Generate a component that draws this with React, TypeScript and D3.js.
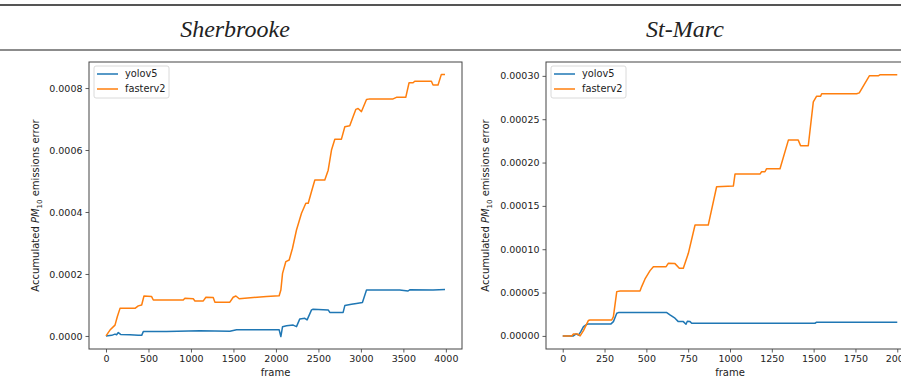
import { useRef, useEffect } from 'react';
import * as d3 from 'd3';

// [frame, value * 1e-4]
const sherbrookeYolo: [number, number][] = [
  [0, 0], [67, 0.02], [106, 0.06], [125, 0.04], [145, 0.11], [172, 0.05], [282, 0.04], [380, 0.02],
  [420, 0.02], [439, 0.14], [713, 0.14], [1105, 0.17], [1458, 0.15], [1537, 0.2], [2038, 0.2],
  [2058, -0.02], [2078, 0.3], [2125, 0.33], [2203, 0.35], [2242, 0.3], [2281, 0.55], [2340, 0.57],
  [2367, 0.52], [2419, 0.84], [2438, 0.86], [2615, 0.84], [2634, 0.76], [2791, 0.76], [2811, 0.98],
  [2889, 1.02], [2948, 1.05], [3018, 1.08], [3066, 1.48], [3457, 1.48], [3555, 1.45], [3575, 1.49],
  [3849, 1.48], [3990, 1.5],
];
const sherbrookeFaster: [number, number][] = [
  [0, 0], [47, 0.19], [106, 0.35], [133, 0.62], [165, 0.89], [341, 0.89], [380, 0.97], [420, 1.0],
  [447, 1.29], [537, 1.27], [557, 1.16], [909, 1.16], [929, 1.22], [1027, 1.2], [1047, 1.13],
  [1145, 1.13], [1176, 1.25], [1262, 1.24], [1282, 1.09], [1458, 1.09], [1497, 1.25], [1529, 1.29],
  [1568, 1.2], [1733, 1.24], [1890, 1.27], [2038, 1.3], [2058, 1.48], [2078, 2.02], [2117, 2.4],
  [2156, 2.45], [2195, 2.83], [2242, 3.42], [2301, 3.96], [2352, 4.28], [2380, 4.28], [2419, 4.66],
  [2458, 5.03], [2575, 5.03], [2615, 5.35], [2654, 6.0], [2693, 6.35], [2771, 6.35], [2811, 6.75],
  [2869, 6.78], [2909, 7.08], [2940, 7.31], [2967, 7.34], [3007, 7.24], [3066, 7.63], [3105, 7.65],
  [3379, 7.65], [3418, 7.7], [3528, 7.7], [3567, 8.17], [3614, 8.17], [3634, 8.22], [3830, 8.22],
  [3849, 8.1], [3908, 8.1], [3947, 8.44], [3990, 8.44],
];

// [frame, value * 1e-5]
const stMarcYolo: [number, number][] = [
  [0, 0], [64, 0], [80, 0.23], [94, 0.08], [108, 0.5], [124, 1.08], [139, 1.27], [150, 1.36],
  [287, 1.36], [303, 1.65], [323, 2.61], [333, 2.69], [622, 2.69], [641, 2.42], [671, 2.04],
  [691, 1.65], [721, 1.65], [737, 1.34], [745, 1.69], [761, 1.65], [771, 1.46], [1040, 1.46],
  [1508, 1.46], [1518, 1.58], [2000, 1.58],
];
const stMarcFaster: [number, number][] = [
  [0, 0], [54, 0], [64, 0.23], [88, 0.23], [104, 0], [124, 0.61], [153, 1.77], [163, 1.84],
  [293, 1.84], [303, 2.23], [323, 5.11], [343, 5.19], [462, 5.19], [472, 5.69], [492, 6.57],
  [522, 7.53], [542, 7.99], [618, 7.99], [631, 8.37], [671, 8.34], [697, 7.8], [721, 7.8],
  [751, 9.53], [791, 12.79], [870, 12.79], [920, 17.21], [1020, 17.29], [1030, 18.67], [1179, 18.67],
  [1189, 18.94], [1209, 18.94], [1219, 19.29], [1299, 19.29], [1349, 22.59], [1408, 22.59],
  [1422, 21.94], [1468, 21.94], [1498, 27.0], [1518, 27.66], [1542, 27.66], [1548, 27.93],
  [1757, 27.93], [1773, 28.04], [1833, 30.0], [1886, 30.0], [1896, 30.12], [2000, 30.12],
];

const titles = ['Sherbrooke', 'St-Marc'];
const seriesNames = ['yolov5', 'fasterv2'];
const colors = ['#1f77b4', '#ff7f0e'];
const sherbrookeXTicks = [0, 500, 1000, 1500, 2000, 2500, 3000, 3500, 4000];
const sherbrookeYTicks = [0, 0.0002, 0.0004, 0.0006, 0.0008];
const stMarcXTicks = [0, 250, 500, 750, 1000, 1250, 1500, 1750, 2000];
const stMarcYTicks = [0, 0.00005, 0.0001, 0.00015, 0.0002, 0.00025, 0.0003];

interface PanelCfg {
  left: number; right: number; xDomain: [number, number]; yDomain: [number, number];
  xTicks: number[]; yTicks: number[]; fmt: string; labelX: number;
  series: [number, number][][]; scale: number;
}

export default function App() {
  const svgRef = useRef<SVGSVGElement>(null);

  useEffect(() => {
    if (!svgRef.current) return;
    const svg = d3.select(svgRef.current);
    svg.selectAll('*').remove();

    const W = 901;
    const top = 62, bottom = 349;
    const font = 'DejaVu Sans, sans-serif';

    // header rules and titles
    svg.append('line').attr('x1', 0).attr('x2', W).attr('y1', 5).attr('y2', 5)
      .attr('stroke', '#555').attr('stroke-width', 1.8);
    svg.append('line').attr('x1', 0).attr('x2', W).attr('y1', 50).attr('y2', 50)
      .attr('stroke', '#666').attr('stroke-width', 1.3);
    [235, 685].forEach((cx, i) => {
      svg.append('text').attr('x', cx).attr('y', 37).attr('text-anchor', 'middle')
        .attr('font-family', 'Liberation Serif, serif').attr('font-style', 'italic')
        .attr('font-size', 24).attr('fill', '#222').text(titles[i]);
    });

    const panels: PanelCfg[] = [
      { left: 89, right: 462, xDomain: [-200, 4190], yDomain: [-0.0000421, 0.000884],
        xTicks: sherbrookeXTicks, yTicks: sherbrookeYTicks, fmt: '.4f', labelX: 39,
        series: [sherbrookeYolo, sherbrookeFaster], scale: 1e-4 },
      { left: 546, right: 914, xDomain: [-100, 2100], yDomain: [-0.0000151, 0.000316],
        xTicks: stMarcXTicks, yTicks: stMarcYTicks, fmt: '.5f', labelX: 489,
        series: [stMarcYolo, stMarcFaster], scale: 1e-5 },
    ];

    panels.forEach((p) => {
      const x = d3.scaleLinear().domain(p.xDomain).range([p.left, p.right]);
      const y = d3.scaleLinear().domain(p.yDomain).range([bottom, top]);
      const g = svg.append('g');

      const line = d3.line<[number, number]>().x((d) => x(d[0])).y((d) => y(d[1] * p.scale));
      p.series.forEach((s, i) => {
        g.append('path').datum(s).attr('d', line).attr('fill', 'none')
          .attr('stroke', colors[i]).attr('stroke-width', 1.5).attr('stroke-linejoin', 'round');
      });

      const xAxis = g.append('g').attr('transform', `translate(0,${bottom})`)
        .call(d3.axisBottom(x).tickValues(p.xTicks).tickSize(3.5).tickPadding(3).tickFormat(d3.format('d')));
      const yAxis = g.append('g').attr('transform', `translate(${p.left},0)`)
        .call(d3.axisLeft(y).tickValues(p.yTicks).tickSize(3.5).tickPadding(3).tickFormat(d3.format(p.fmt)));
      [xAxis, yAxis].forEach((a) => {
        a.select('.domain').remove();
        a.selectAll('line').attr('stroke', '#333').attr('stroke-width', 0.8);
        a.selectAll('text').attr('font-family', font).attr('font-size', 9.5).attr('fill', '#222');
      });

      g.append('rect').attr('x', p.left).attr('y', top).attr('width', p.right - p.left)
        .attr('height', bottom - top).attr('fill', 'none').attr('stroke', '#444').attr('stroke-width', 1);

      g.append('text').attr('x', x((p.xDomain[0] + p.xDomain[1]) / 2))
        .attr('y', 376).attr('text-anchor', 'middle').attr('font-family', font)
        .attr('font-size', 10).attr('fill', '#222').text('frame');

      const yl = g.append('text').attr('transform', `translate(${p.labelX},${(top + bottom) / 2}) rotate(-90)`)
        .attr('text-anchor', 'middle').attr('font-family', font).attr('font-size', 10).attr('fill', '#222');
      yl.append('tspan').text('Accumulated ');
      yl.append('tspan').attr('font-style', 'italic').text('PM');
      yl.append('tspan').attr('font-size', 7).attr('dy', 2.5).text('10');
      yl.append('tspan').attr('dy', -2.5).text(' emissions error');

      // legend
      const lx = p.left + 5, ly = top + 4;
      g.append('rect').attr('x', lx).attr('y', ly).attr('width', 75).attr('height', 32).attr('rx', 2)
        .attr('fill', 'white').attr('fill-opacity', 0.8).attr('stroke', '#d0d0d0').attr('stroke-width', 0.8);
      seriesNames.forEach((name, i) => {
        const yy = ly + 8 + i * 15;
        g.append('line').attr('x1', lx + 3).attr('x2', lx + 24).attr('y1', yy).attr('y2', yy)
          .attr('stroke', colors[i]).attr('stroke-width', 1.5);
        g.append('text').attr('x', lx + 31).attr('y', yy).attr('dy', '0.35em')
          .attr('font-family', font).attr('font-size', 9.8).attr('fill', '#222').text(name);
      });
    });
  }, []);

  return (
    <div style={{ position: 'absolute', left: 0, top: 0, width: 901, height: 380, overflow: 'hidden', background: 'white' }}>
      <svg ref={svgRef} width={901} height={380} />
    </div>
  );
}
